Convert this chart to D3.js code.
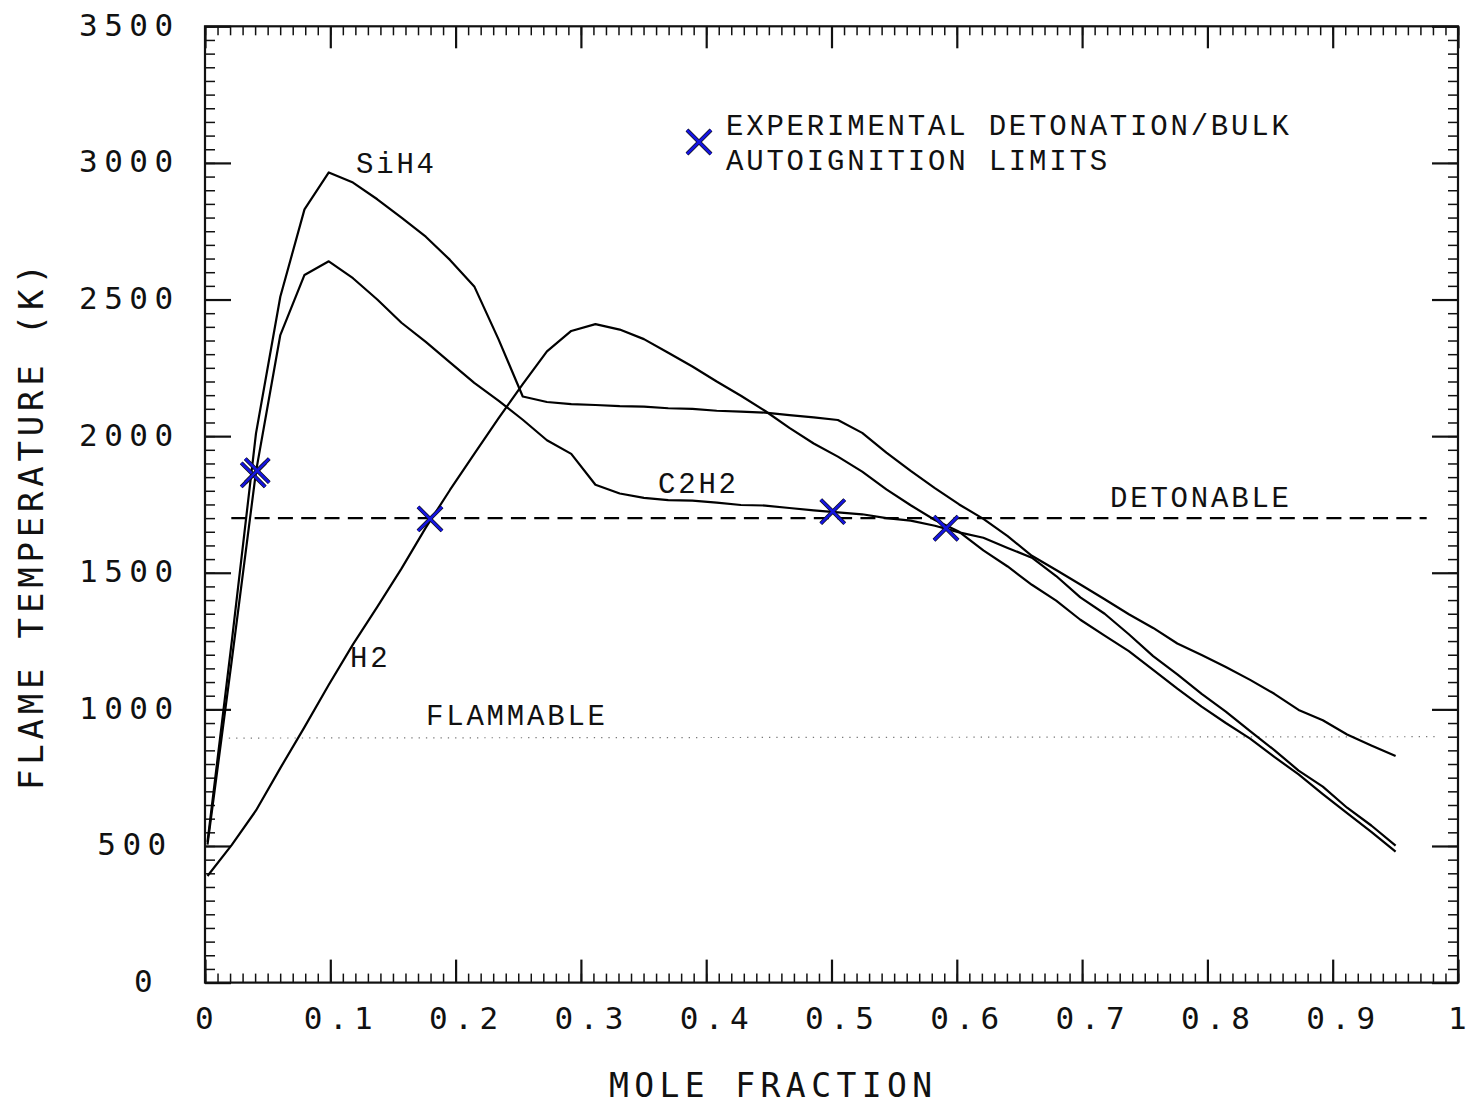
<!DOCTYPE html>
<html>
<head>
<meta charset="utf-8">
<script src="https://cdn.jsdelivr.net/npm/d3@7"></script>
<style>
  html, body { margin: 0; padding: 0; background: #fff; }
  svg { display: block; }
</style>
</head>
<body>
<svg id="chart" width="1469" height="1106"></svg>
<script>
// ---- data ----
const moleFraction = [0.002, 0.0214, 0.0407, 0.0601, 0.0794, 0.0988, 0.1181, 0.1375, 0.1568, 0.1762,
  0.1955, 0.2149, 0.2342, 0.2536, 0.2729, 0.2923, 0.3116, 0.3310, 0.3503, 0.3697,
  0.3890, 0.4084, 0.4277, 0.4471, 0.4664, 0.4858, 0.5051, 0.5245, 0.5438, 0.5632,
  0.5825, 0.6019, 0.6212, 0.6406, 0.6599, 0.6793, 0.6986, 0.7180, 0.7373, 0.7567,
  0.7760, 0.7954, 0.8147, 0.8341, 0.8534, 0.8728, 0.8921, 0.9115, 0.9308, 0.9502];

const sih4Temp = [515, 1250, 2010, 2510, 2830, 2965, 2928, 2867, 2800, 2730,
  2645, 2548, 2355, 2145, 2125, 2117, 2114, 2110, 2108, 2102,
  2100, 2093, 2090, 2086, 2077, 2069, 2059, 2012, 1940, 1873,
  1810, 1750, 1697, 1634, 1562, 1510, 1457, 1403, 1348, 1298,
  1241, 1199, 1155, 1108, 1057, 998, 960, 908, 868, 829];

const c2h2Temp = [505, 1180, 1870, 2370, 2590, 2640, 2578, 2500, 2415, 2345,
  2270, 2195, 2130, 2060, 1985, 1935, 1822, 1790, 1774, 1766,
  1764, 1757, 1748, 1746, 1737, 1728, 1721, 1714, 1700, 1691,
  1672, 1648, 1628, 1591, 1555, 1488, 1410, 1350, 1275, 1195,
  1128, 1057, 992, 920, 851, 776, 717, 640, 575, 501];

const h2Temp = [390, 504, 630, 785, 935, 1090, 1238, 1375, 1515, 1665,
  1803, 1935, 2065, 2190, 2310, 2385, 2410, 2390, 2355, 2305,
  2255, 2200, 2148, 2092, 2030, 1973, 1925, 1870, 1805, 1747,
  1693, 1650, 1582, 1523, 1456, 1398, 1328, 1270, 1213, 1145,
  1076, 1010, 950, 893, 826, 762, 690, 620, 552, 479];

const seriesNames = ["SiH4", "C2H2", "H2"];

const expLimitX = [0.0385, 0.0417, 0.1796, 0.501, 0.5914];
const expLimitT = [1858, 1874, 1697, 1724, 1663];

const detonableX = [0.021, 0.975];
const detonableT = [1700, 1700];
const flammableX = [0.019, 0.982];
const flammableT = [895, 900];

const xTickValues = [0, 0.1, 0.2, 0.3, 0.4, 0.5, 0.6, 0.7, 0.8, 0.9, 1];
const xTickLabels = ["0", "0.1", "0.2", "0.3", "0.4", "0.5", "0.6", "0.7", "0.8", "0.9", "1"];
const yTickValues = [0, 500, 1000, 1500, 2000, 2500, 3000, 3500];
const yTickLabels = ["0", "500", "1000", "1500", "2000", "2500", "3000", "3500"];

const xTitle = "MOLE FRACTION";
const yTitle = "FLAME TEMPERATURE (K)";
const legendLines = ["EXPERIMENTAL DETONATION/BULK", "AUTOIGNITION LIMITS"];

// ---- drawing ----
const svg = d3.select("#chart");
const L = 205, R = 1458, T = 26.3, B = 982.6;
const x = d3.scaleLinear().domain([0, 1]).range([L, R]);
const y = d3.scaleLinear().domain([0, 3500]).range([B, T]);

const tickFont = "'DejaVu Sans Mono', monospace";
const serifFont = "'Liberation Mono', 'Courier New', monospace";

// minor ticks
const xMinor = d3.range(0, 101).map(i => i / 100);
const yMinor = d3.range(0, 71).map(i => i * 50);

function styleAxis(g, w) {
  g.select(".domain").remove();
  g.selectAll(".tick line").attr("stroke", "#111").attr("stroke-width", w);
  g.selectAll(".tick text").remove();
}

svg.append("g").attr("transform", `translate(0,${B})`)
  .call(d3.axisBottom(x).tickValues(xMinor).tickSize(-9).tickFormat(""))
  .call(g => styleAxis(g, 1.5));
svg.append("g").attr("transform", `translate(0,${B})`)
  .call(d3.axisBottom(x).tickValues(xTickValues).tickSize(-23).tickFormat(""))
  .call(g => styleAxis(g, 2.2));
svg.append("g").attr("transform", `translate(0,${T})`)
  .call(d3.axisTop(x).tickValues(xMinor).tickSize(-9).tickFormat(""))
  .call(g => styleAxis(g, 1.5));
svg.append("g").attr("transform", `translate(0,${T})`)
  .call(d3.axisTop(x).tickValues(xTickValues).tickSize(-22).tickFormat(""))
  .call(g => styleAxis(g, 2.2));
svg.append("g").attr("transform", `translate(${L},0)`)
  .call(d3.axisLeft(y).tickValues(yMinor).tickSize(-10).tickFormat(""))
  .call(g => styleAxis(g, 1.5));
svg.append("g").attr("transform", `translate(${L},0)`)
  .call(d3.axisLeft(y).tickValues(yTickValues).tickSize(-26).tickFormat(""))
  .call(g => styleAxis(g, 2.2));
svg.append("g").attr("transform", `translate(${R},0)`)
  .call(d3.axisRight(y).tickValues(yMinor).tickSize(-10).tickFormat(""))
  .call(g => styleAxis(g, 1.5));
svg.append("g").attr("transform", `translate(${R},0)`)
  .call(d3.axisRight(y).tickValues(yTickValues).tickSize(-26).tickFormat(""))
  .call(g => styleAxis(g, 2.2));

// frame
svg.append("rect").attr("x", L).attr("y", T).attr("width", R - L).attr("height", B - T)
  .attr("fill", "none").attr("stroke", "#111").attr("stroke-width", 2.2);

// tick labels
svg.append("g").selectAll("text").data(xTickValues).join("text")
  .attr("x", (d, i) => x(d) - 10 - (xTickLabels[i].length - 1) * 8.25)
  .attr("y", 1029)
  .attr("font-family", tickFont).attr("font-size", 31)
  .attr("letter-spacing", (d, i) => xTickLabels[i].length > 1 ? 6.5 : 0)
  .attr("fill", "#111")
  .text((d, i) => xTickLabels[i]);

svg.append("g").selectAll("text").data(yTickValues).join("text")
  .attr("x", (d, i) => 79 + (4 - yTickLabels[i].length) * 18.3)
  .attr("y", d => y(d) + 9.5)
  .attr("font-family", tickFont).attr("font-size", 31).attr("letter-spacing", 6.5)
  .attr("fill", "#111")
  .text((d, i) => yTickLabels[i]);

// axis titles
svg.append("text").attr("x", 609).attr("y", 1097)
  .attr("font-family", tickFont).attr("font-size", 33).attr("letter-spacing", 5.4)
  .attr("fill", "#111").text(xTitle);
svg.append("text").attr("transform", "translate(43,790) rotate(-90)")
  .attr("font-family", tickFont).attr("font-size", 34).attr("letter-spacing", 4.8)
  .attr("fill", "#111").text(yTitle);

// reference lines
const refLine = d3.line().x(d => x(d[0])).y(d => y(d[1]));
svg.append("path").attr("d", refLine(d3.zip(detonableX, detonableT)))
  .attr("fill", "none").attr("stroke", "#000").attr("stroke-width", 2.2)
  .attr("stroke-dasharray", "15,8.3");
svg.append("path").attr("d", refLine(d3.zip(flammableX, flammableT)))
  .attr("fill", "none").attr("stroke", "#777").attr("stroke-width", 1.2)
  .attr("stroke-dasharray", "1.3,6");

// curves
const curve = d3.line().x(d => x(d[0])).y(d => y(d[1]));
[sih4Temp, c2h2Temp, h2Temp].forEach(vals => {
  svg.append("path").attr("d", curve(d3.zip(moleFraction, vals)))
    .attr("fill", "none").attr("stroke", "#000").attr("stroke-width", 2.2)
    .attr("stroke-linejoin", "round");
});

// markers
const xPath = "M-12,-12L12,12M-12,12L12,-12";
function drawMarker(g, cx, cy) {
  g.append("path").attr("d", xPath).attr("transform", `translate(${cx},${cy})`)
    .attr("stroke", "#111").attr("stroke-width", 4.0).attr("fill", "none");
  g.append("path").attr("d", xPath).attr("transform", `translate(${cx},${cy})`)
    .attr("stroke", "#1515e0").attr("stroke-width", 2.6).attr("fill", "none");
}
const mg = svg.append("g");
expLimitX.forEach((mx, i) => drawMarker(mg, x(mx), y(expLimitT[i])));

// legend
drawMarker(svg.append("g"), 699, 142);
svg.append("g").selectAll("text").data(legendLines).join("text")
  .attr("x", 726).attr("y", (d, i) => 135 + i * 35)
  .attr("font-family", serifFont).attr("font-size", 29).attr("letter-spacing", 2.8)
  .attr("fill", "#111").text(d => d);

// annotations
const ann = svg.append("g").attr("font-family", serifFont).attr("font-size", 29)
  .attr("letter-spacing", 2.8).attr("fill", "#111");
ann.append("text").attr("x", 356).attr("y", 173).text(seriesNames[0]);
ann.append("text").attr("x", 658).attr("y", 493).text(seriesNames[1]);
ann.append("text").attr("x", 350).attr("y", 667).text(seriesNames[2]);
ann.append("text").attr("x", 1110).attr("y", 507).text("DETONABLE");
ann.append("text").attr("x", 426).attr("y", 725).text("FLAMMABLE");
</script>
</body>
</html>
